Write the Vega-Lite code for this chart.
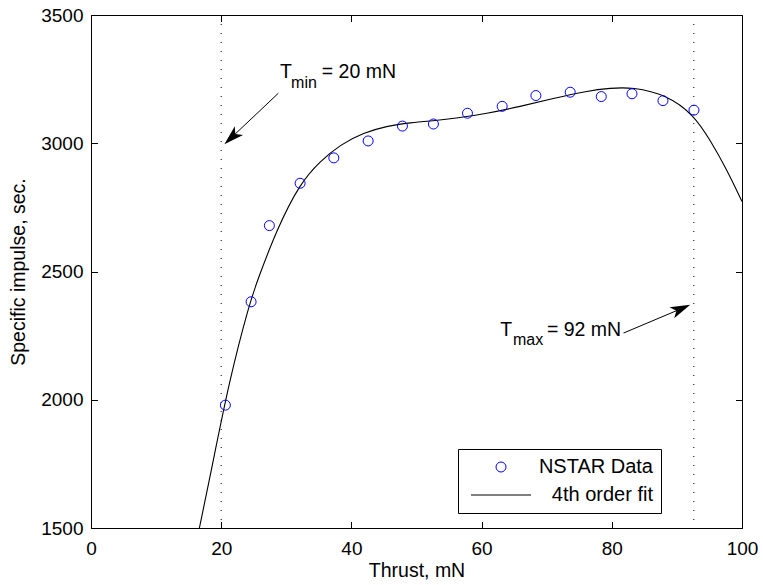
{
  "$schema": "https://vega.github.io/schema/vega-lite/v6.json",
  "width": 651,
  "height": 513,
  "autosize": {"type": "none"},
  "padding": {"left": 91, "top": 15, "right": 21, "bottom": 57},
  "background": "white",
  "config": {
    "font": "Liberation Sans",
    "view": {"stroke": "black", "strokeWidth": 1},
    "axis": {
      "grid": false,
      "domainColor": "black",
      "domainWidth": 1,
      "tickColor": "black",
      "tickWidth": 1,
      "tickSize": -6.5,
      "labelColor": "black",
      "titleColor": "black",
      "labelFontSize": 19,
      "titleFontSize": 19.5,
      "titleFontWeight": "normal",
      "labelFlush": false,
      "labelOverlap": false
    }
  },
  "datasets": {
    "nstar": [
      {"thrust": 20.64, "isp": 1979, "series": "NSTAR Data"},
      {"thrust": 24.59, "isp": 2382, "series": "NSTAR Data"},
      {"thrust": 27.4, "isp": 2679, "series": "NSTAR Data"},
      {"thrust": 32.12, "isp": 2844, "series": "NSTAR Data"},
      {"thrust": 37.3, "isp": 2943, "series": "NSTAR Data"},
      {"thrust": 42.57, "isp": 3009, "series": "NSTAR Data"},
      {"thrust": 47.84, "isp": 3067, "series": "NSTAR Data"},
      {"thrust": 52.6, "isp": 3075, "series": "NSTAR Data"},
      {"thrust": 57.83, "isp": 3117, "series": "NSTAR Data"},
      {"thrust": 63.16, "isp": 3144, "series": "NSTAR Data"},
      {"thrust": 68.34, "isp": 3186, "series": "NSTAR Data"},
      {"thrust": 73.61, "isp": 3199, "series": "NSTAR Data"},
      {"thrust": 78.38, "isp": 3182, "series": "NSTAR Data"},
      {"thrust": 83.1, "isp": 3193, "series": "NSTAR Data"},
      {"thrust": 87.86, "isp": 3166, "series": "NSTAR Data"},
      {"thrust": 92.62, "isp": 3129, "series": "NSTAR Data"}
    ],
    "fit": [
      {"thrust": 16.65, "isp": 1500, "series": "4th order fit"},
      {"thrust": 18.2, "isp": 1688, "series": "4th order fit"},
      {"thrust": 21.25, "isp": 2078, "series": "4th order fit"},
      {"thrust": 24.4, "isp": 2381, "series": "4th order fit"},
      {"thrust": 25.6, "isp": 2467, "series": "4th order fit"},
      {"thrust": 28.5, "isp": 2662, "series": "4th order fit"},
      {"thrust": 32.1, "isp": 2844, "series": "4th order fit"},
      {"thrust": 35.2, "isp": 2930, "series": "4th order fit"},
      {"thrust": 38.3, "isp": 2995, "series": "4th order fit"},
      {"thrust": 41.9, "isp": 3041, "series": "4th order fit"},
      {"thrust": 45.4, "isp": 3067, "series": "4th order fit"},
      {"thrust": 49.0, "isp": 3080, "series": "4th order fit"},
      {"thrust": 53.1, "isp": 3089, "series": "4th order fit"},
      {"thrust": 55.7, "isp": 3096, "series": "4th order fit"},
      {"thrust": 60.8, "isp": 3116, "series": "4th order fit"},
      {"thrust": 65.9, "isp": 3143, "series": "4th order fit"},
      {"thrust": 71.0, "isp": 3175, "series": "4th order fit"},
      {"thrust": 76.2, "isp": 3204, "series": "4th order fit"},
      {"thrust": 79.8, "isp": 3215, "series": "4th order fit"},
      {"thrust": 83.1, "isp": 3219, "series": "4th order fit"},
      {"thrust": 88.5, "isp": 3188, "series": "4th order fit"},
      {"thrust": 92.6, "isp": 3110, "series": "4th order fit"},
      {"thrust": 95.1, "isp": 3013, "series": "4th order fit"},
      {"thrust": 97.7, "isp": 2896, "series": "4th order fit"},
      {"thrust": 100, "isp": 2773, "series": "4th order fit"}
    ]
  },
  "layer": [
    {
      "data": {"values": [{}]},
      "mark": {"type": "rule", "strokeDash": [1, 8], "color": "black", "strokeWidth": 1},
      "encoding": {"x": {"datum": 20, "type": "quantitative", "axis": null}}
    },
    {
      "data": {"values": [{}]},
      "mark": {"type": "rule", "strokeDash": [1, 8], "color": "black", "strokeWidth": 1},
      "encoding": {"x": {"datum": 92.6, "type": "quantitative", "axis": null}}
    },
    {
      "data": {"name": "fit"},
      "mark": {"type": "line", "interpolate": "basis", "strokeWidth": 1.1},
      "encoding": {
        "x": {"field": "thrust", "type": "quantitative", "axis": null},
        "y": {"field": "isp", "type": "quantitative", "axis": null},
        "stroke": {
          "field": "series", "type": "nominal",
          "scale": {"domain": ["NSTAR Data", "4th order fit"], "range": ["#0000ff", "#000000"]},
          "legend": {"orient": "none", "legendX": 367, "legendY": 434, "title": null, "padding": 8, "strokeColor": "black", "fillColor": "white", "symbolOffset": 25, "labelOffset": 142, "labelAlign": "right", "labelFontSize": 20, "labelColor": "black", "rowPadding": 8, "symbolSize": 100, "symbolStrokeWidth": 1, "cornerRadius": 0}
        }
      }
    },
    {
      "data": {"name": "nstar"},
      "mark": {"type": "point", "filled": false, "strokeWidth": 1, "size": 100, "opacity": 1},
      "encoding": {
        "x": {
          "field": "thrust", "type": "quantitative",
          "scale": {"domain": [0, 100], "nice": false},
          "axis": {"orient": "bottom", "title": "Thrust, mN", "values": [0, 20, 40, 60, 80, 100], "labelPadding": 18, "titlePadding": 3}
        },
        "y": {
          "field": "isp", "type": "quantitative",
          "scale": {"domain": [1500, 3500], "nice": false, "zero": false},
          "axis": {"orient": "left", "title": "Specific impulse, sec.", "format": "d", "values": [1500, 2000, 2500, 3000, 3500], "labelPadding": 14.5, "titlePadding": 12}
        },
        "shape": {
          "field": "series", "type": "nominal",
          "scale": {"domain": ["NSTAR Data", "4th order fit"], "range": ["circle", "M-6,0L6,0"]},
          "legend": {"orient": "none", "legendX": 367, "legendY": 434, "title": null, "padding": 8, "strokeColor": "black", "fillColor": "white", "symbolOffset": 25, "labelOffset": 142, "labelAlign": "right", "labelFontSize": 20, "labelColor": "black", "rowPadding": 8, "symbolSize": 100, "symbolStrokeWidth": 1, "cornerRadius": 0}
        },
        "stroke": {
          "field": "series", "type": "nominal",
          "scale": {"domain": ["NSTAR Data", "4th order fit"], "range": ["#0000ff", "#000000"]},
          "legend": {"orient": "none", "legendX": 367, "legendY": 434, "title": null, "padding": 8, "strokeColor": "black", "fillColor": "white", "symbolOffset": 25, "labelOffset": 142, "labelAlign": "right", "labelFontSize": 20, "labelColor": "black", "rowPadding": 8, "symbolSize": 100, "symbolStrokeWidth": 1, "cornerRadius": 0}
        }
      }
    },
    {
      "data": {"name": "nstar"},
      "mark": {"type": "point", "opacity": 0},
      "encoding": {
        "x": {"field": "thrust", "type": "quantitative", "axis": {"orient": "top", "labels": false, "title": null, "domain": false, "values": [0, 20, 40, 60, 80, 100]}},
        "y": {"field": "isp", "type": "quantitative", "axis": {"orient": "right", "labels": false, "title": null, "domain": false, "values": [1500, 2000, 2500, 3000, 3500]}}
      }
    },
    {
      "data": {"values": [{}]},
      "mark": {"type": "rule", "color": "black", "strokeWidth": 1},
      "encoding": {
        "x": {"datum": 28.78, "type": "quantitative", "axis": null},
        "y": {"datum": 3195, "type": "quantitative", "axis": null},
        "x2": {"datum": 20.9},
        "y2": {"datum": 3006}
      }
    },
    {
      "data": {"values": [{}]},
      "mark": {"type": "point", "shape": "M0,0L0.6,2L0,1.5L-0.6,2Z", "size": 400, "filled": true, "color": "black", "opacity": 1, "angle": 226.6},
      "encoding": {
        "x": {"datum": 20.49, "type": "quantitative", "axis": null},
        "y": {"datum": 2996, "type": "quantitative", "axis": null}
      }
    },
    {
      "data": {"values": [{}]},
      "mark": {"type": "rule", "color": "black", "strokeWidth": 1},
      "encoding": {
        "x": {"datum": 81.8, "type": "quantitative", "axis": null},
        "y": {"datum": 2260, "type": "quantitative", "axis": null},
        "x2": {"datum": 91.6},
        "y2": {"datum": 2365}
      }
    },
    {
      "data": {"values": [{}]},
      "mark": {"type": "point", "shape": "M0,0L0.6,2L0,1.5L-0.6,2Z", "size": 400, "filled": true, "color": "black", "opacity": 1, "angle": 66.9},
      "encoding": {
        "x": {"datum": 92.05, "type": "quantitative", "axis": null},
        "y": {"datum": 2370, "type": "quantitative", "axis": null}
      }
    },
    {
      "data": {"values": [{}]},
      "mark": {"type": "text", "text": "T", "align": "left", "baseline": "alphabetic", "fontSize": 19.5, "color": "black"},
      "encoding": {
        "x": {"datum": 29.05, "type": "quantitative", "axis": null},
        "y": {"datum": 3253, "type": "quantitative", "axis": null}
      }
    },
    {
      "data": {"values": [{}]},
      "mark": {"type": "text", "text": "min", "align": "left", "baseline": "alphabetic", "fontSize": 16, "color": "black"},
      "encoding": {
        "x": {"datum": 30.74, "type": "quantitative", "axis": null},
        "y": {"datum": 3214, "type": "quantitative", "axis": null}
      }
    },
    {
      "data": {"values": [{}]},
      "mark": {"type": "text", "text": "= 20 mN", "align": "left", "baseline": "alphabetic", "fontSize": 19.5, "color": "black"},
      "encoding": {
        "x": {"datum": 35.45, "type": "quantitative", "axis": null},
        "y": {"datum": 3253, "type": "quantitative", "axis": null}
      }
    },
    {
      "data": {"values": [{}]},
      "mark": {"type": "text", "text": "T", "align": "left", "baseline": "alphabetic", "fontSize": 19.5, "color": "black"},
      "encoding": {
        "x": {"datum": 62.86, "type": "quantitative", "axis": null},
        "y": {"datum": 2249, "type": "quantitative", "axis": null}
      }
    },
    {
      "data": {"values": [{}]},
      "mark": {"type": "text", "text": "max", "align": "left", "baseline": "alphabetic", "fontSize": 16, "color": "black"},
      "encoding": {
        "x": {"datum": 64.81, "type": "quantitative", "axis": null},
        "y": {"datum": 2214, "type": "quantitative", "axis": null}
      }
    },
    {
      "data": {"values": [{}]},
      "mark": {"type": "text", "text": "= 92 mN", "align": "left", "baseline": "alphabetic", "fontSize": 19.5, "color": "black"},
      "encoding": {
        "x": {"datum": 70.03, "type": "quantitative", "axis": null},
        "y": {"datum": 2249, "type": "quantitative", "axis": null}
      }
    }
  ],
  "resolve": {"axis": {"x": "independent", "y": "independent"}}
}
